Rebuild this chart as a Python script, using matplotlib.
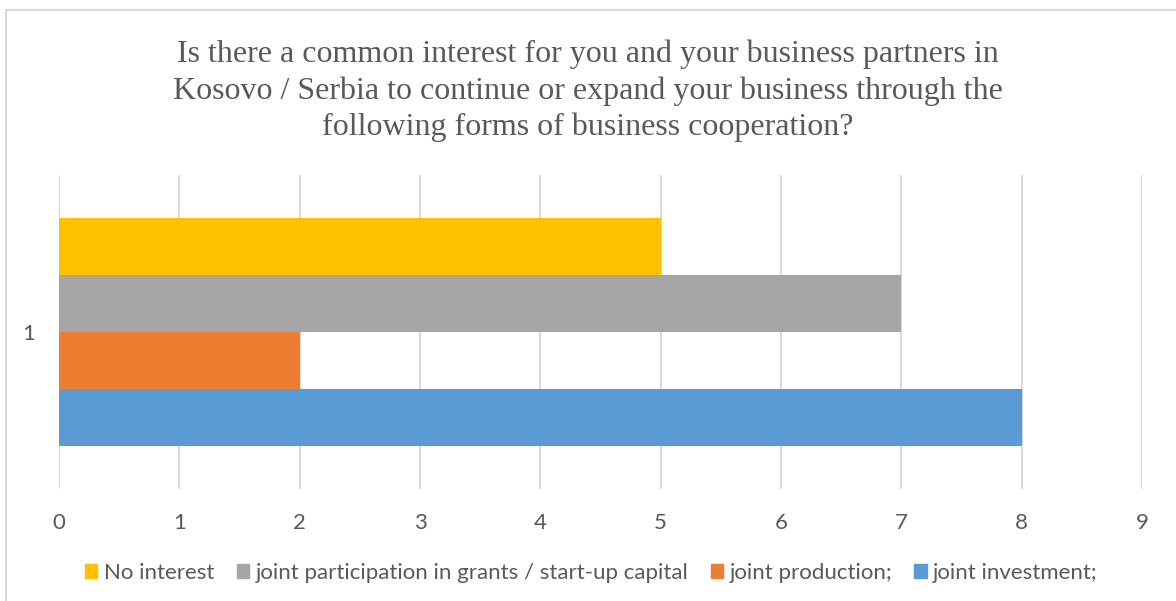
import matplotlib.pyplot as plt
from matplotlib.patches import Rectangle, Patch

# survey answers, drawn top to bottom
labels = ["No interest", "joint participation in grants / start-up capital",
          "joint production;", "joint investment;"]
counts = [5, 7, 2, 8]
colors = ["#FFC000", "#A5A5A5", "#ED7D31", "#5B9BD5"]
category = ["1"]
x_ticks = list(range(0, 10))

title = ("Is there a common interest for you and your business partners in\n"
         "Kosovo / Serbia to continue or expand your business through the\n"
         "following forms of business cooperation?")

text_color = "#595959"
grid_color = "#D9D9D9"
sans = ["Lato", "DejaVu Sans"]

fig = plt.figure(figsize=(11.76, 6.01), dpi=100)
ax = fig.add_axes([0.0502, 0.1864, 0.9209, 0.5224])

bar_h = 0.1815
n = len(counts)
for i, (lab, val, col) in enumerate(zip(labels, counts, colors)):
    y = (n - 1) / 2 * bar_h - i * bar_h
    ax.barh(y, val, height=bar_h, color=col, label=lab, zorder=2)

ax.set_xlim(0, 9)
ax.set_ylim(-0.5, 0.5)
ax.set_xticks(x_ticks)
ax.set_yticks([0])
ax.set_yticklabels(category)
ax.grid(axis="x", color=grid_color, linewidth=1.5, zorder=0)
for s in ax.spines.values():
    s.set_visible(False)
ax.tick_params(length=0, colors=text_color, labelsize=16)
ax.tick_params(axis="x", pad=17)
ax.tick_params(axis="y", pad=17)
for t in ax.get_xticklabels() + ax.get_yticklabels():
    t.set_family(sans)

fig.text(0.5, 0.849, title, ha="center", va="center", fontsize=23,
         family="Liberation Serif", color=text_color, linespacing=1.33)

handles = [Patch(color=c, label=l) for l, c in zip(labels, colors)]
fig.legend(handles=handles, loc="center", bbox_to_anchor=(0.503, 0.047), ncol=4,
           frameon=False, handlelength=0.55, handleheight=0.55, handletextpad=0.3,
           columnspacing=1.0, prop={"family": sans, "size": 16},
           labelcolor=text_color)

# light frame around the chart area
fig.patches.append(Rectangle((6 / 1176, -0.05), 1.2, 1 - 10 / 601 + 0.05,
                             transform=fig.transFigure, fill=False,
                             edgecolor=grid_color, linewidth=1.5))

fig.savefig("out.png", dpi=100)
